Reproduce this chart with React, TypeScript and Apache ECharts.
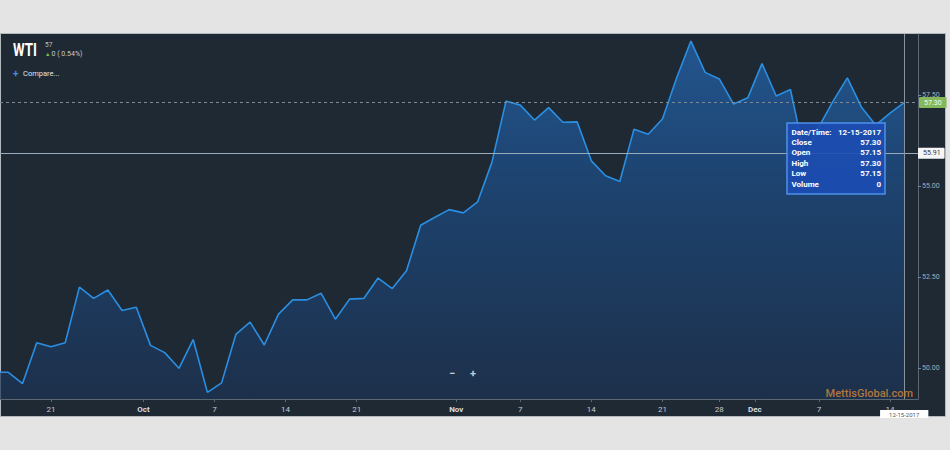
import React, { useEffect, useRef } from 'react';
import * as echarts from 'echarts';

// trading days shown (first one is partly clipped at the left edge)
const dates = [
  '09-15-2017', '09-18-2017', '09-19-2017', '09-20-2017', '09-21-2017', '09-22-2017', '09-25-2017', '09-26-2017', '09-27-2017', '09-28-2017', '09-29-2017',
  '10-02-2017', '10-03-2017', '10-04-2017', '10-05-2017', '10-06-2017', '10-09-2017', '10-10-2017', '10-11-2017', '10-12-2017', '10-13-2017',
  '10-16-2017', '10-17-2017', '10-18-2017', '10-19-2017', '10-20-2017', '10-23-2017', '10-24-2017', '10-25-2017', '10-26-2017', '10-27-2017',
  '10-30-2017', '10-31-2017',
  '11-01-2017', '11-02-2017', '11-03-2017', '11-06-2017', '11-07-2017', '11-08-2017', '11-09-2017', '11-10-2017', '11-13-2017', '11-14-2017',
  '11-15-2017', '11-16-2017', '11-17-2017', '11-20-2017', '11-21-2017', '11-22-2017', '11-24-2017', '11-27-2017', '11-28-2017', '11-29-2017',
  '11-30-2017',
  '12-01-2017', '12-04-2017', '12-05-2017', '12-06-2017', '12-07-2017', '12-08-2017', '12-11-2017', '12-12-2017', '12-13-2017', '12-14-2017',
  '12-15-2017',
];

const closes = [
  49.89, 49.89, 49.58, 50.70, 50.59, 50.70, 52.23, 51.92, 52.15, 51.59, 51.68,
  50.63, 50.43, 50.00, 50.79, 49.34, 49.60, 50.93, 51.27, 50.64, 51.49,
  51.88, 51.88, 52.06, 51.35, 51.90, 51.92, 52.48, 52.19, 52.68, 53.93,
  54.15, 54.36,
  54.27, 54.57, 55.65, 57.34, 57.23, 56.82, 57.16, 56.76, 56.77, 55.70,
  55.29, 55.13, 56.57, 56.43, 56.85, 57.98, 58.99, 58.13, 57.95, 57.26,
  57.43,
  58.37, 57.48, 57.66, 55.83, 56.63, 57.34, 57.98, 57.17, 56.68, 57.01,
  57.30,
];

// x tick positions are expressed on the trading-day index scale
const xTickPositions = [4, 10.5, 15.5, 20.5, 25.5, 32.5, 37, 42, 47, 51, 53.5, 58, 63];
const xTickLabels = ['21', 'Oct', '7', '14', '21', 'Nov', '7', '14', '21', '28', 'Dec', '7', '14'];
const yTickValues = [50, 52.5, 55, 57.5];

const hoverPrice = 55.91;
const headerPrice = '57';
const headerChange = '0 ( 0.54%)';
const tooltipLabels = ['Close', 'Open', 'High', 'Low', 'Volume'];
const tooltipValues = ['57.30', '57.15', '57.30', '57.15', '0'];

const FONT = 'Roboto, "Noto Sans", sans-serif';

export default function App() {
  const ref = useRef<HTMLDivElement>(null);

  useEffect(() => {
    document.body.style.margin = '0';
    const chart = echarts.init(ref.current as HTMLDivElement, null, { renderer: 'svg' });
    const lastIndex = closes.length - 1;
    const lastClose = closes[lastIndex];
    const lastDate = dates[lastIndex];

    const ttX = 787;
    const ttY = 123;
    const rowH = 10.4;
    const ttFont = `bold 8px ${FONT}`;
    const ttTexts: any[] = [];
    ttTexts.push({
      type: 'text', x: ttX + 4.5, y: ttY + 9, z: 101,
      style: { text: 'Date/Time:', fill: '#ffffff', font: ttFont, textVerticalAlign: 'middle', verticalAlign: 'middle' },
    });
    ttTexts.push({
      type: 'text', x: ttX + 94, y: ttY + 9, z: 101,
      style: { text: lastDate, fill: '#ffffff', font: ttFont, textAlign: 'right', align: 'right', textVerticalAlign: 'middle', verticalAlign: 'middle' },
    });
    tooltipLabels.forEach((lab, k) => {
      const yy = ttY + 9 + rowH * (k + 1);
      ttTexts.push({
        type: 'text', x: ttX + 4.5, y: yy, z: 101,
        style: { text: lab, fill: '#ffffff', font: ttFont, textVerticalAlign: 'middle', verticalAlign: 'middle' },
      });
      ttTexts.push({
        type: 'text', x: ttX + 94, y: yy, z: 101,
        style: { text: tooltipValues[k], fill: '#ffffff', font: ttFont, textAlign: 'right', align: 'right', textVerticalAlign: 'middle', verticalAlign: 'middle' },
      });
    });

    const option: any = {
      animation: false,
      backgroundColor: '#e4e4e4',
      grid: { left: 0, right: 32, top: 34, bottom: 51, containLabel: false, outerBoundsMode: 'none' },
      xAxis: {
        type: 'value',
        min: 0.416,
        max: 64.97,
        splitLine: { show: false },
        axisLine: { show: true, lineStyle: { color: '#5b6873', width: 1 } },
        axisTick: { show: true, customValues: xTickPositions, length: 3, lineStyle: { color: '#5b6873' } },
        axisLabel: {
          customValues: xTickPositions,
          color: '#c3cad1',
          fontSize: 8,
          fontFamily: FONT,
          margin: 6,
          formatter: (v: number) => {
            const k = xTickPositions.indexOf(v);
            if (k < 0) return '';
            const s = xTickLabels[k];
            return /^[A-Z]/.test(s) ? `{b|${s}}` : s;
          },
          rich: { b: { fontWeight: 'bold', fontSize: 8, color: '#d6dce2', fontFamily: FONT } },
        },
      },
      yAxis: {
        type: 'value',
        position: 'right',
        min: 49.157,
        max: 59.184,
        splitLine: { show: false },
        axisLine: { show: true, lineStyle: { color: '#5b6873', width: 1 } },
        axisTick: { show: true, customValues: yTickValues, length: 3, lineStyle: { color: '#7b8791' } },
        axisLabel: {
          customValues: yTickValues,
          color: '#a4aeb8',
          fontSize: 7,
          fontFamily: FONT,
          margin: 4,
          formatter: (v: number) => v.toFixed(2),
        },
      },
      series: [
        {
          type: 'line',
          data: closes.map((v, i) => [i, v]),
          showSymbol: false,
          symbol: 'none',
          clip: true,
          z: 2,
          lineStyle: { color: '#2a8fe2', width: 1.6 },
          areaStyle: {
            origin: 'start',
            color: new echarts.graphic.LinearGradient(0, 0, 0, 1, [
              { offset: 0, color: '#2468b5' },
              { offset: 0.4, color: '#1c4e88' },
              { offset: 1, color: '#1c3354' },
            ]),
          },
          markLine: {
            silent: true,
            symbol: ['none', 'none'],
            animation: false,
            data: [
              {
                yAxis: lastClose,
                lineStyle: { type: [3, 3], color: '#7f8a95', width: 1 },
                label: {
                  position: 'end', distance: 1, formatter: lastClose.toFixed(2),
                  backgroundColor: '#84b85a', color: '#f4faee', fontSize: 7, fontFamily: FONT,
                  padding: [2, 5, 2, 5], borderRadius: 1,
                },
              },
              {
                yAxis: hoverPrice,
                lineStyle: { type: 'solid', color: '#9aabbb', width: 1 },
                label: {
                  position: 'end', distance: 0, formatter: hoverPrice.toFixed(2),
                  backgroundColor: '#f6f6f6', color: '#3a3a3a', fontSize: 7, fontFamily: FONT,
                  padding: [2, 4, 2, 5], borderRadius: 1,
                },
              },
              {
                xAxis: lastIndex,
                lineStyle: { type: 'solid', color: '#87949f', width: 1 },
                label: {
                  position: 'start', distance: 11, formatter: lastDate,
                  backgroundColor: '#ffffff', color: '#555555', fontSize: 6, fontFamily: FONT,
                  padding: [1, 9, 1, 9],
                },
              },
            ],
          },
        },
      ],
      graphic: [
        {
          type: 'rect', z: -10, silent: true,
          shape: { x: 0.5, y: 33.5, width: 945, height: 383 },
          style: { fill: '#1f2934', stroke: '#b3b8bd', lineWidth: 1 },
        },
        {
          type: 'text', x: 13, y: 49.5, z: 50, scaleX: 0.74,
          style: { text: 'WTI', fill: '#ffffff', font: `bold 18px ${FONT}`, textVerticalAlign: 'middle', verticalAlign: 'middle' },
        },
        {
          type: 'text', x: 45, y: 45, z: 50,
          style: { text: headerPrice, fill: '#b9c1c9', font: `6.5px ${FONT}`, textVerticalAlign: 'middle', verticalAlign: 'middle' },
        },
        {
          type: 'text', x: 45, y: 53.8, z: 50,
          style: { text: '▲', fill: '#7cbf42', font: `5.5px ${FONT}`, textVerticalAlign: 'middle', verticalAlign: 'middle' },
        },
        {
          type: 'text', x: 51.5, y: 53.8, z: 50,
          style: { text: headerChange, fill: '#c5cdd5', font: `7px ${FONT}`, textVerticalAlign: 'middle', verticalAlign: 'middle' },
        },
        {
          type: 'text', x: 13, y: 73.3, z: 50,
          style: { text: '+', fill: '#3b8fe6', font: `bold 10px ${FONT}`, textVerticalAlign: 'middle', verticalAlign: 'middle' },
        },
        {
          type: 'text', x: 23, y: 73.3, z: 50,
          style: { text: 'Compare...', fill: '#dfe5ea', font: `7.5px ${FONT}`, textVerticalAlign: 'middle', verticalAlign: 'middle' },
        },
        {
          type: 'text', x: 452, y: 373, z: 50,
          style: { text: '−', fill: '#c4ccd4', font: `bold 11px ${FONT}`, textAlign: 'center', align: 'center', textVerticalAlign: 'middle', verticalAlign: 'middle' },
        },
        {
          type: 'text', x: 473, y: 373, z: 50,
          style: { text: '+', fill: '#c4ccd4', font: `bold 11px ${FONT}`, textAlign: 'center', align: 'center', textVerticalAlign: 'middle', verticalAlign: 'middle' },
        },
        {
          type: 'text', x: 913, y: 393, z: 50,
          style: { text: 'MettisGlobal.com', fill: 'rgba(205, 132, 58, 0.85)', font: `500 11px ${FONT}`, textAlign: 'right', align: 'right', textVerticalAlign: 'middle', verticalAlign: 'middle' },
        },
        {
          type: 'rect', z: 100, silent: true,
          shape: { x: ttX, y: ttY, width: 98, height: 71 },
          style: { fill: 'rgba(28, 76, 178, 0.9)', stroke: '#4d90ea', lineWidth: 1.5 },
        },
        ...ttTexts,
      ],
    };

    chart.setOption(option);
    return () => chart.dispose();
  }, []);

  return <div ref={ref} style={{ width: 950, height: 450 }} />;
}
